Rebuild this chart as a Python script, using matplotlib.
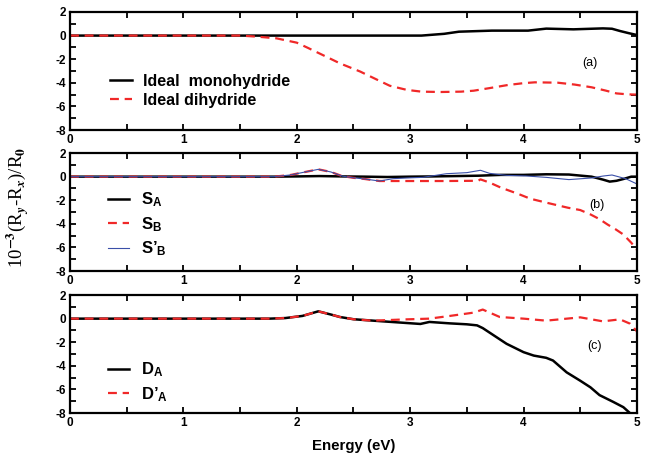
import matplotlib
matplotlib.use("Agg")
import matplotlib.pyplot as plt
from matplotlib.ticker import MultipleLocator

# panel (a)
e_mono = [0, 1.0, 2.0, 2.8, 3.1, 3.3, 3.43, 3.72, 4.04, 4.2, 4.44, 4.6, 4.7, 4.78, 4.85, 4.93, 5.0]
mono = [0, 0, 0, 0, 0.0, 0.15, 0.33, 0.42, 0.42, 0.59, 0.53, 0.58, 0.61, 0.58, 0.39, 0.2, 0.05]
e_di = [0, 1.0, 1.5, 1.65, 1.82, 2.0, 2.1, 2.26, 2.38, 2.56, 2.7, 2.82, 2.97, 3.1, 3.27, 3.45, 3.56,
        3.7, 3.86, 4.0, 4.1, 4.3, 4.45, 4.6, 4.72, 4.82, 4.92, 5.0]
di = [0, 0, 0, -0.09, -0.23, -0.6, -1.05, -1.79, -2.35, -3.05, -3.7, -4.25, -4.6, -4.75, -4.78,
      -4.75, -4.67, -4.45, -4.19, -4.03, -3.96, -3.99, -4.15, -4.38, -4.65, -4.9, -4.98, -5.0]

# panel (b)
e_sa = [0, 1.8, 2.0, 2.2, 2.4, 2.6, 2.8, 3.0, 3.2, 3.4, 3.6, 3.8, 4.0, 4.2, 4.4, 4.6, 4.7,
        4.76, 4.82, 4.88, 4.95, 5.0]
sa = [0, 0, 0.02, 0.05, 0.02, 0, -0.03, 0, 0.02, 0.05, 0.08, 0.15, 0.15, 0.2, 0.18, 0.0,
      -0.25, -0.42, -0.35, -0.2, 0.0, 0.0]
e_sb = [0, 1.8, 1.95, 2.05, 2.19, 2.3, 2.4, 2.5, 2.6, 2.73, 3.0, 3.3, 3.6, 3.62, 3.7, 3.8,
        3.95, 4.06, 4.2, 4.39, 4.5, 4.59, 4.67, 4.74, 4.81, 4.88, 4.95, 5.0]
sb = [0, 0, 0.15, 0.35, 0.62, 0.4, 0.05, -0.1, -0.2, -0.37, -0.37, -0.37, -0.35, -0.23,
      -0.5, -0.93, -1.45, -1.87, -2.2, -2.63, -2.83, -3.2, -3.6, -4.05, -4.45, -4.9, -5.6, -6.2]
e_sbp = [0, 1.8, 1.95, 2.05, 2.19, 2.3, 2.4, 2.5, 2.6, 2.73, 2.85, 3.0, 3.11, 3.32, 3.5,
         3.62, 3.7, 3.85, 4.02, 4.2, 4.4, 4.6, 4.7, 4.78, 4.9, 5.0]
sbp = [0, 0, 0.15, 0.35, 0.62, 0.4, 0.05, -0.1, -0.2, -0.37, -0.17, -0.1, -0.06, 0.25, 0.34,
       0.54, 0.28, 0.11, 0.06, -0.06, -0.25, -0.11, 0.05, 0.14, -0.17, -0.62]

# panel (c)
e_da = [0, 1.0, 1.76, 1.9, 2.05, 2.19, 2.3, 2.38, 2.5, 2.76, 3.09, 3.17, 3.35, 3.5, 3.59,
        3.64, 3.76, 3.85, 4.0, 4.09, 4.2, 4.26, 4.38, 4.5, 4.59, 4.67, 4.79, 4.88, 4.95, 5.0]
da = [0, 0, 0, 0.05, 0.23, 0.62, 0.35, 0.14, -0.05, -0.23, -0.45, -0.28, -0.4, -0.48, -0.57,
      -0.8, -1.56, -2.13, -2.84, -3.13, -3.32, -3.55, -4.55, -5.26, -5.82, -6.48, -7.05, -7.5,
      -8.1, -8.4]
e_dap = [0, 1.0, 1.76, 1.9, 2.05, 2.19, 2.3, 2.38, 2.5, 2.67, 2.97, 3.17, 3.35, 3.56, 3.64,
         3.79, 4.0, 4.2, 4.5, 4.7, 4.85, 4.94, 5.0]
dap = [0, 0, 0, 0.05, 0.23, 0.62, 0.35, 0.14, -0.05, -0.17, -0.06, 0.0, 0.23, 0.51, 0.77,
       0.14, 0.0, -0.17, 0.11, -0.23, -0.06, -0.43, -1.08]

RED = "#f02828"
BLUE = "#3a4fa8"

plt.rcParams["font.family"] = "Liberation Sans"
plt.rcParams["font.weight"] = "bold"
plt.rcParams["axes.unicode_minus"] = False
plt.rcParams["mathtext.fontset"] = "custom"
plt.rcParams["mathtext.rm"] = "Liberation Sans:bold"
plt.rcParams["mathtext.bf"] = "Liberation Sans:bold"
plt.rcParams["mathtext.it"] = "Liberation Sans:bold"

fig = plt.figure(figsize=(6.45, 4.61), dpi=100)

bottoms = [0.718, 0.412, 0.104]
axes = [fig.add_axes([0.1085, b, 0.879, 0.256]) for b in bottoms]

for ax in axes:
    ax.set_xlim(0, 5)
    ax.set_ylim(-8, 2)
    ax.xaxis.set_major_locator(MultipleLocator(1))
    ax.xaxis.set_minor_locator(MultipleLocator(0.5))
    ax.yaxis.set_major_locator(MultipleLocator(2))
    ax.yaxis.set_minor_locator(MultipleLocator(1))
    ax.tick_params(which="both", direction="in", top=True, right=True, width=1.3,
                   labelsize=8.5, pad=3)
    ax.tick_params(which="major", length=4)
    ax.tick_params(which="minor", length=4)
    for s in ax.spines.values():
        s.set_linewidth(1.6)
    for lab in ax.get_xticklabels() + ax.get_yticklabels():
        lab.set_fontweight("bold")

dash = dict(color=RED, lw=1.6, dashes=(4, 2.6))

ax = axes[0]
ax.plot(e_mono, mono, color="black", lw=1.8, label="Ideal  monohydride")
ax.plot(e_di, di, label="Ideal dihydride", **dash)
ax.legend(loc="upper left", bbox_to_anchor=(0.045, 0.6), frameon=False, fontsize=11.5,
          handlelength=1.4, handletextpad=0.7, labelspacing=0.25)
ax.text(0.917, 0.57, "(a)", transform=ax.transAxes, fontsize=9, fontweight="normal",
        ha="center", va="center")

ax = axes[1]
ax.plot(e_sa, sa, color="black", lw=1.8, label="S$_\\mathregular{A}$")
ax.plot(e_sb, sb, label="S$_\\mathregular{B}$", **dash)
ax.plot(e_sbp, sbp, color=BLUE, lw=0.8, label="S\u2019$_\\mathregular{B}$")
ax.legend(loc="upper left", bbox_to_anchor=(0.04, 0.81), frameon=False, fontsize=12,
          handlelength=1.3, handletextpad=0.7, labelspacing=0.35)
ax.text(0.93, 0.56, "(b)", transform=ax.transAxes, fontsize=9, fontweight="normal",
        ha="center", va="center")

ax = axes[2]
ax.plot(e_da, da, color="black", lw=1.8, label="D$_\\mathregular{A}$")
ax.plot(e_dap, dap, label="D\u2019$_\\mathregular{A}$", **dash)
ax.legend(loc="upper left", bbox_to_anchor=(0.04, 0.57), frameon=False, fontsize=12,
          handlelength=1.3, handletextpad=0.7, labelspacing=0.35)
ax.text(0.926, 0.57, "(c)", transform=ax.transAxes, fontsize=9, fontweight="normal",
        ha="center", va="center")
ax.set_xlabel("Energy (eV)", fontsize=10.8, fontweight="bold", labelpad=7)

fig.text(0.027, 0.55, "10$^{-3}$(R$_y$-R$_x$)/R$_0$", rotation=90, ha="center", va="center",
         fontsize=13.5, family="Liberation Serif", fontweight="normal", math_fontfamily="stix")

fig.savefig("out.png", dpi=100)
